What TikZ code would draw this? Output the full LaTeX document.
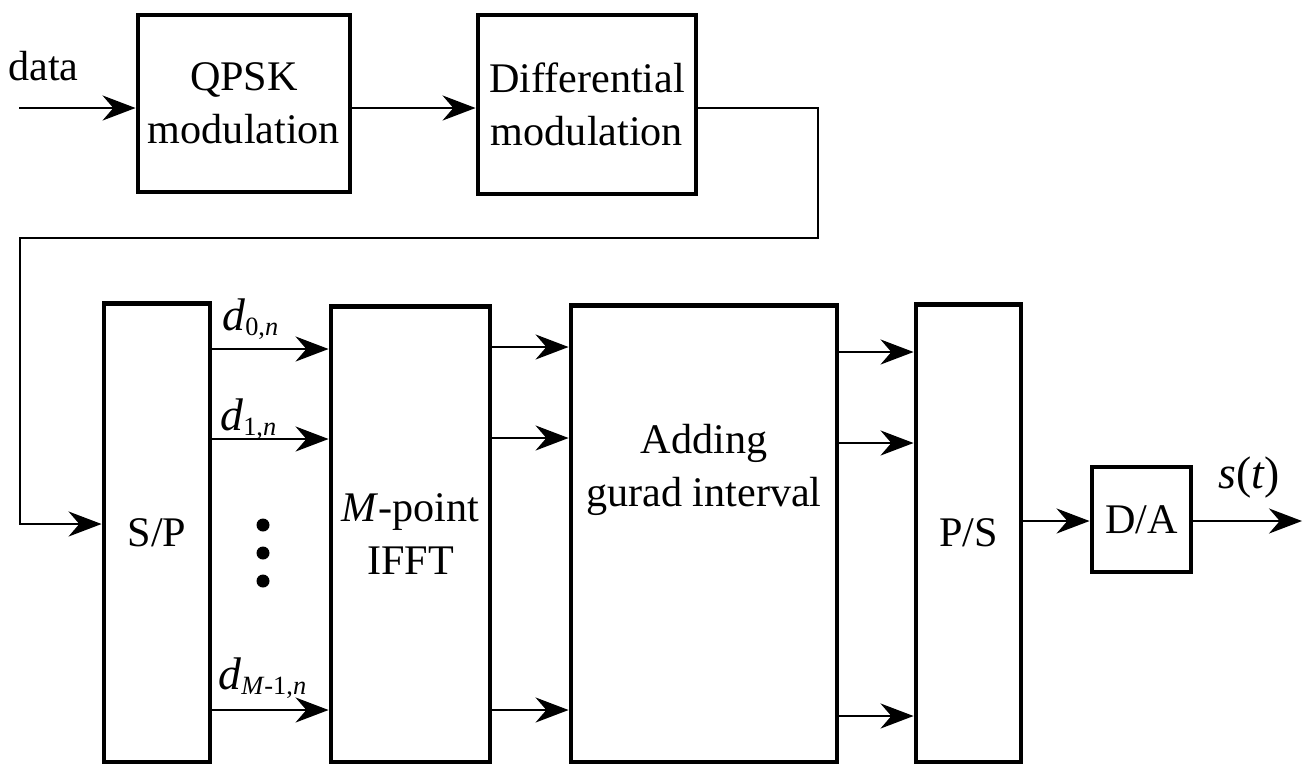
\documentclass[tikz,border=0pt]{standalone}
\usepackage{fontspec}
\setmainfont{Liberation Serif}
\usetikzlibrary{arrows.meta, positioning, calc}
\newcommand{\dsym}[1]{\textit{d}\raisebox{-0.12em}{\fontsize{15}{15}\selectfont #1}}

\begin{document}
\begin{tikzpicture}[x=0.02cm, y=-0.02cm,
    every node/.style={font=\fontsize{24}{30}\selectfont, inner sep=0pt},
    blk/.style={draw, line width=2.8pt, align=center},
    lbl/.style={anchor=base west, font=\fontsize{26}{30}\selectfont},
    arr/.style={-{Stealth[length=0.66cm, width=0.5cm]}, line width=1.4pt}]
    \useasboundingbox (0,0) rectangle (1304,765);
    % first row
    \node[blk, minimum width=4.24cm, minimum height=3.54cm] (qpsk) at (244,103.5) {QPSK\\modulation};
    \node[blk, minimum width=4.36cm, minimum height=3.58cm] (diff) at (587,104.5) {Differential\\modulation};
    \node[anchor=base west] (datalbl) at (8,80) {data};
    % second row
    \node[blk, minimum width=2.12cm, minimum height=9.18cm] (sp) at (157,532.5) {S/P};
    \node[blk, minimum width=3.18cm, minimum height=9.12cm] (ifft) at (410.5,534) {\textit{M}-point\\IFFT};
    \node[blk, minimum width=5.32cm, minimum height=9.14cm] (add) at (704,533.5) {};
    \node[align=center] (addtxt) at (704,470) {Adding\\gurad interval};
    \node[blk, minimum width=2.1cm, minimum height=9.16cm] (ps) at (968.5,533) {P/S};
    \node[blk, minimum width=1.98cm, minimum height=2.1cm] (da) at (1141.5,519.5) {D/A};
    \node[lbl] (d0) at (222,330) {\dsym{0,\textit{n}}};
    \node[lbl] (d1) at (220,430) {\dsym{1,\textit{n}}};
    \node[lbl] (dm) at (218,689) {\dsym{\textit{M}-1,\textit{n}}};
    \node[lbl] (st) at (1218,488) {\textit{s}(\textit{t})};
    % connectors
    \coordinate (in) at (19,108);
    \coordinate (fbr) at (818,238);
    \coordinate (fbl) at (20,238);
    \coordinate (out) at (1302,521);
    \draw[arr] (in) -- (qpsk.west |- in);
    \draw[arr] (qpsk.east |- in) -- (diff.west |- in);
    \draw[arr] (diff.east |- in) -| (fbr) -- (fbl) |- ([yshift=0.17cm]sp.west);
    \foreach \y in {349,439,710}
      \draw[arr] (sp.east |- 0,\y) -- (ifft.west |- 0,\y);
    \foreach \y in {347,438,710}
      \draw[arr] (ifft.east |- 0,\y) -- (add.west |- 0,\y);
    \foreach \y in {352,443,716}
      \draw[arr] (add.east |- 0,\y) -- (ps.west |- 0,\y);
    \draw[arr] (ps.east |- out) -- (da.west |- out);
    \draw[arr] (da.east |- out) -- (out);
    \foreach \y in {525,553,581}
      \fill (263,\y) circle[radius=0.13cm];
\end{tikzpicture}
\end{document}
